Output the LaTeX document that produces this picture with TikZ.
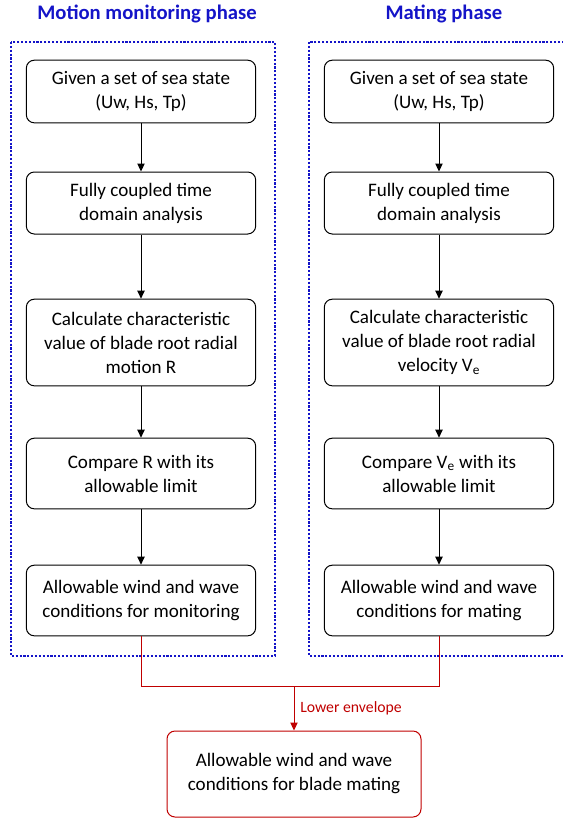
\documentclass[tikz,border=0pt]{standalone}
\usepackage{fontspec}
\setmainfont{Carlito}
\usepackage{tikz}
\usetikzlibrary{arrows.meta}
\definecolor{frameblue}{RGB}{20,20,200}
\definecolor{envred}{RGB}{192,0,0}

\begin{document}
\begin{tikzpicture}[x=0.75pt,y=-0.75pt,>={Triangle[length=6pt,width=5.5pt]},
    box/.style={draw,line width=0.75pt,rounded corners=6pt,align=center,
        minimum width=172pt,inner sep=2pt,font=\fontsize{14.3}{18}\selectfont},
    phase/.style={draw=frameblue,line width=1.3pt,dash pattern=on 1.6pt off 1.3pt},
    title/.style={text=frameblue,font=\fontsize{15.5}{18}\selectfont\bfseries},
    env/.style={draw=envred,line width=0.75pt}]
	%page
	\useasboundingbox (0,0) rectangle (563,819);
	%the two phase frames
	\draw[phase] (11,42) rectangle (275,656);
	\draw[phase] (309,42) rectangle (590,656);
	\node[title] (tm) at (147,14) {Motion monitoring phase};
	\node[title] (tp) at (444,14) {Mating phase};

	%motion monitoring column
	\def\x{141}
	\node[box,minimum height=47pt] (m1) at (\x,91.5) {Given a set of sea state\\(Uw, Hs, Tp)};
	\node[box,minimum height=46.5pt] (m2) at (\x,203) {Fully coupled time\\domain analysis};
	\node[box,minimum height=65pt] (m3) at (\x,342.5) {Calculate characteristic\\value of blade root radial\\motion R};
	\node[box,minimum height=53pt] (m4) at (\x,473.5) {Compare R with its\\allowable limit};
	\node[box,minimum height=53pt] (m5) at (\x,600.5) {Allowable wind and wave\\conditions for monitoring};

	%mating column
	\def\x{439}
	\node[box,minimum height=47pt] (p1) at (\x,91.5) {Given a set of sea state\\(Uw, Hs, Tp)};
	\node[box,minimum height=46.5pt] (p2) at (\x,203) {Fully coupled time\\domain analysis};
	\node[box,minimum height=65pt] (p3) at (\x,342.5) {Calculate characteristic\\value of blade root radial\\velocity V\textsubscript{e}};
	\node[box,minimum height=53pt] (p4) at (\x,473.5) {Compare V\textsubscript{e} with its\\allowable limit};
	\node[box,minimum height=53pt] (p5) at (\x,600.5) {Allowable wind and wave\\conditions for mating};

	\draw[->,line width=0.75pt] (m1) -- (m2);
	\draw[->,line width=0.75pt] (m2) -- (m3);
	\draw[->,line width=0.75pt] (m3) -- (m4);
	\draw[->,line width=0.75pt] (m4) -- (m5);
	\draw[->,line width=0.75pt] (p1) -- (p2);
	\draw[->,line width=0.75pt] (p2) -- (p3);
	\draw[->,line width=0.75pt] (p3) -- (p4);
	\draw[->,line width=0.75pt] (p4) -- (p5);

	%lower envelope of both
	\node[box,draw=envred,minimum width=190.5pt,minimum height=64.5pt] (all) at (294,774) {Allowable wind and wave\\conditions for blade mating};
	\coordinate (join) at (294,686);
	\draw[env] (m5.south) |- (join) -| (p5.south);
	\draw[env,->,fill=envred] (join) -- (all.north) node[midway,right=1pt,text=envred,font=\fontsize{11.8}{13}\selectfont] {Lower envelope};
\end{tikzpicture}
\end{document}
